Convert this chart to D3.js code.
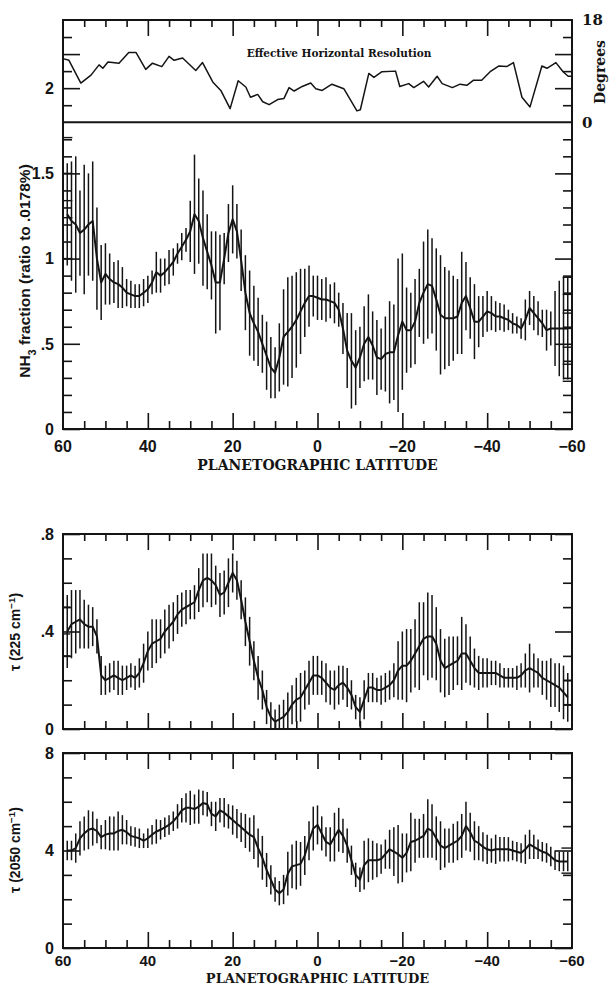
<!DOCTYPE html>
<html><head><meta charset="utf-8">
<script src="https://cdn.jsdelivr.net/npm/d3@7"></script>
<style>body{margin:0;background:#fff} svg{display:block}</style>
</head><body>
<svg id="c" width="611" height="988"></svg>
<script>
// ---------- DATA ----------
const latitudes = [59,58,57,56,55,54,53,52,51,50,49,48,47,46,45,44,43,42,41,40,39,38,37,36,35,34,33,32,31,30,29,28,27,26,25,24,23,22,21,20,19,18,17,16,15,14,13,12,11,10,9,8,7,6,5,4,3,2,1,0,-1,-2,-3,-4,-5,-6,-7,-8,-9,-10,-11,-12,-13,-14,-15,-16,-17,-18,-19,-20,-21,-22,-23,-24,-25,-26,-27,-28,-29,-30,-31,-32,-33,-34,-35,-36,-37,-38,-39,-40,-41,-42,-43,-44,-45,-46,-47,-48,-49,-50,-51,-52,-53,-54,-55,-56,-57,-58,-59];

const nh3Values = [1.26,1.22,1.20,1.15,1.17,1.20,1.22,1.00,0.86,0.91,
0.88,0.86,0.85,0.83,0.80,0.79,0.78,0.78,0.80,0.82,
0.86,0.92,0.90,0.92,0.95,0.98,1.03,1.07,1.11,1.16,
1.26,1.22,1.12,1.04,0.96,0.86,0.86,1.00,1.15,1.23,
1.16,0.99,0.80,0.68,0.62,0.57,0.50,0.43,0.36,0.33,
0.42,0.54,0.57,0.60,0.64,0.69,0.74,0.78,0.78,0.77,
0.76,0.76,0.75,0.74,0.70,0.59,0.46,0.40,0.36,0.42,
0.50,0.54,0.49,0.42,0.41,0.44,0.45,0.45,0.55,0.63,
0.58,0.58,0.63,0.74,0.80,0.85,0.84,0.76,0.67,0.65,
0.65,0.65,0.66,0.74,0.78,0.71,0.63,0.63,0.66,0.69,
0.68,0.66,0.66,0.65,0.64,0.62,0.61,0.59,0.64,0.71,
0.68,0.65,0.62,0.58,0.59,0.59,0.59,0.59,0.59];
const nh3Errors = [0.30,0.35,0.40,0.25,0.38,0.30,0.35,0.30,0.22,0.18,
0.15,0.12,0.14,0.12,0.08,0.08,0.07,0.07,0.08,0.08,
0.07,0.12,0.10,0.08,0.10,0.08,0.06,0.08,0.07,0.18,
0.35,0.25,0.28,0.22,0.20,0.30,0.28,0.15,0.17,0.20,
0.16,0.18,0.22,0.25,0.22,0.20,0.17,0.20,0.18,0.15,
0.20,0.28,0.32,0.30,0.28,0.25,0.20,0.18,0.12,0.13,
0.12,0.13,0.10,0.12,0.10,0.15,0.22,0.28,0.22,0.18,
0.22,0.25,0.20,0.22,0.18,0.22,0.30,0.28,0.45,0.40,
0.25,0.22,0.25,0.20,0.30,0.32,0.28,0.30,0.35,0.30,
0.28,0.25,0.22,0.30,0.20,0.18,0.22,0.15,0.12,0.12,
0.10,0.09,0.08,0.08,0.06,0.06,0.05,0.06,0.12,0.10,
0.10,0.10,0.08,0.12,0.10,0.22,0.28,0.30,0.30];

const tau225Values = [0.40,0.43,0.44,0.45,0.43,0.42,0.42,0.38,0.22,0.20,
0.21,0.22,0.21,0.20,0.21,0.22,0.21,0.23,0.27,0.32,
0.35,0.36,0.37,0.40,0.42,0.44,0.47,0.49,0.50,0.51,
0.52,0.57,0.61,0.62,0.61,0.59,0.55,0.56,0.60,0.64,
0.61,0.53,0.44,0.36,0.28,0.21,0.16,0.09,0.05,0.03,
0.04,0.05,0.07,0.10,0.12,0.13,0.16,0.19,0.22,0.22,
0.21,0.19,0.17,0.16,0.18,0.19,0.17,0.14,0.09,0.07,
0.12,0.17,0.17,0.16,0.16,0.17,0.18,0.20,0.24,0.26,
0.26,0.28,0.31,0.34,0.37,0.38,0.38,0.35,0.28,0.25,
0.26,0.27,0.28,0.31,0.31,0.28,0.25,0.23,0.23,0.23,
0.23,0.23,0.22,0.21,0.21,0.21,0.21,0.22,0.24,0.25,
0.24,0.23,0.21,0.20,0.19,0.18,0.17,0.15,0.13];
const tau225Errors = [0.15,0.14,0.13,0.12,0.10,0.09,0.08,0.07,0.08,0.06,
0.06,0.06,0.07,0.06,0.05,0.05,0.05,0.06,0.08,0.08,
0.10,0.09,0.08,0.09,0.09,0.08,0.08,0.07,0.07,0.06,
0.07,0.09,0.11,0.10,0.11,0.08,0.09,0.09,0.10,0.08,
0.08,0.08,0.10,0.10,0.08,0.09,0.08,0.07,0.06,0.05,
0.06,0.07,0.08,0.08,0.09,0.10,0.08,0.09,0.08,0.08,
0.07,0.08,0.07,0.08,0.08,0.07,0.08,0.06,0.05,0.06,
0.08,0.06,0.06,0.05,0.06,0.06,0.06,0.07,0.12,0.14,
0.15,0.13,0.14,0.18,0.15,0.18,0.17,0.15,0.13,0.12,
0.12,0.11,0.10,0.15,0.12,0.10,0.08,0.07,0.06,0.06,
0.05,0.05,0.05,0.04,0.04,0.04,0.05,0.05,0.07,0.10,
0.07,0.06,0.07,0.08,0.10,0.09,0.10,0.11,0.10];

const tau2050Values = [4.00,4.00,4.10,4.50,4.70,4.85,4.90,4.80,4.55,4.65,
4.70,4.70,4.80,4.85,4.75,4.60,4.55,4.50,4.40,4.50,
4.65,4.78,4.85,4.95,5.05,5.20,5.40,5.65,5.75,5.75,
5.70,5.80,5.95,5.90,5.50,5.40,5.65,5.55,5.40,5.25,
5.10,4.95,4.80,4.65,4.55,4.10,3.70,3.20,2.80,2.40,
2.25,2.40,3.05,3.35,3.40,3.45,3.80,4.40,4.90,5.05,
4.70,4.35,4.25,4.55,4.85,4.60,4.20,3.60,3.00,2.80,
3.40,3.60,3.60,3.60,3.65,3.85,4.05,3.95,3.85,3.70,
3.90,4.35,4.40,4.50,4.60,4.90,4.80,4.50,4.20,4.10,
4.20,4.30,4.40,4.60,5.00,4.75,4.40,4.30,4.15,4.05,
4.00,4.05,4.05,4.05,4.05,4.00,3.95,3.90,4.05,4.25,
4.15,4.05,3.95,3.90,3.75,3.60,3.55,3.55,3.55];
const tau2050Errors = [0.4,0.4,0.6,0.7,0.7,0.8,0.7,0.5,0.5,0.6,
0.7,0.7,0.8,0.6,0.5,0.4,0.4,0.4,0.3,0.4,
0.4,0.5,0.4,0.4,0.4,0.4,0.5,0.5,0.6,0.7,
0.6,0.7,0.5,0.5,0.5,0.6,0.5,0.6,0.5,0.6,
0.6,0.6,0.7,0.7,0.9,0.8,0.9,0.7,0.6,0.5,
0.5,0.6,0.9,0.9,1.0,0.9,0.8,0.8,0.9,0.8,
0.7,0.6,0.7,1.0,0.9,0.7,0.7,0.6,0.5,0.5,
1.0,0.9,0.8,0.7,0.6,0.6,0.8,1.0,1.2,1.0,
0.8,1.2,0.9,0.8,0.9,1.2,1.1,0.9,1.0,0.8,
0.7,0.8,0.8,0.9,1.0,0.8,0.8,0.7,0.6,0.6,
0.5,0.6,0.5,0.5,0.5,0.4,0.4,0.4,0.6,0.6,
0.5,0.4,0.4,0.4,0.4,0.4,0.4,0.4,0.4];

// effective horizontal resolution (degrees)
const resLat = [60,58.6,55.8,53.4,51.5,50.6,49.4,46.8,44.5,42.8,40.5,38.9,36.7,35.0,33.8,31.8,28.7,27.1,24.7,22.8,20.6,18.7,16.9,15.8,14.1,12.9,11.4,9.4,7.9,6.7,5.5,3.6,1.6,0.4,-1.1,-3.4,-6.2,-7.8,-9.3,-10.1,-12.1,-13.3,-15.2,-18.4,-19.4,-21.5,-22.7,-25.0,-26.2,-28.2,-29.4,-31.8,-33.6,-35.2,-36.8,-38.7,-40.7,-42.7,-44.6,-46.2,-48.2,-50.1,-52.9,-54.1,-56.2,-57.9,-59.1,-60];
const resDeg = [11.2,10.9,6.9,8.3,10.1,9.5,10.6,10.4,12.3,12.3,9.3,10.4,9.8,11.6,10.9,11.3,9.1,10.5,7.1,5.6,2.4,7.3,6.2,4.4,4.9,3.6,3.1,4.0,4.2,6.1,5.5,6.3,6.9,5.9,5.6,6.7,5.9,3.9,2.0,2.2,8.6,7.9,8.9,9.0,6.3,6.8,6.1,7.2,6.2,8.1,6.8,6.1,6.7,6.5,7.4,7.4,8.9,9.9,9.8,10.5,4.4,2.7,9.9,9.5,10.5,8.9,8.1,8.1];

// edge bracket levels drawn at the ends of the data
const nh3LeftCaps = [1.71,1.50,1.34,1.24,1.00];
const nh3RightCaps = [0.89,0.79,0.68,0.59,0.48,0.38,0.28];
const tau225LeftCaps = [0.50,0.39,0.30];
const tau225RightCaps = [0.20,0.10];
const tau2050RightCaps = [4.10,3.07];

// ticks
const latMajor = [60,40,20,0,-20,-40,-60];
const latMinor = [55,50,45,35,30,25,15,10,5,-5,-10,-15,-25,-30,-35,-45,-50,-55];
const latLabels = ["60","40","20","0","\u221220","\u221240","\u221260"];
const nh3Major = [0,0.5,1,1.5];
const nh3Minor = [0.1,0.2,0.3,0.4,0.6,0.7,0.8,0.9,1.1,1.2,1.3,1.4,1.6,1.7];
const nh3LabelVals = [0,0.5,1,1.5,2];
const nh3Labels = ["0",".5","1","1.5","2"];
const resMajor = [6,12];
const resMinor = [3,9,15];
const resLabelVals = [0,18];
const resLabels = ["0","18"];
const t225Major = [0,0.4,0.8];
const t225Minor = [0.1,0.2,0.3,0.5,0.6,0.7];
const t225Labels = ["0",".4",".8"];
const t2050Major = [0,4,8];
const t2050Minor = [1,2,3,5,6,7];
const t2050Labels = ["0","4","8"];

// ---------- DRAW ----------
const ink = "#141414";
const sans = "'Liberation Sans', Arial, sans-serif";
const serif = "'DejaVu Serif', serif";
const svg = d3.select("#c");
const X0 = 63, X1 = 572;
const x = d3.scaleLinear().domain([60,-60]).range([X0, X1]);

const yNH3 = d3.scaleLinear().domain([0,2.4]).range([429,20]);
const yRes = d3.scaleLinear().domain([0,18]).range([yNH3(1.8),20]);
const y225 = d3.scaleLinear().domain([0,0.8]).range([729,534]);
const y2050 = d3.scaleLinear().domain([0,8]).range([948,753]);

function ticks(axisFn, scale, values, size, tx, ty) {
  const g = svg.append("g").attr("transform", `translate(${tx},${ty})`)
    .call(axisFn(scale).tickValues(values).tickSize(size).tickFormat(""));
  g.select(".domain").remove();
  g.selectAll("line").attr("stroke", ink).attr("stroke-width", 1.6);
}
function latTicks(yTop, yBot, withTop) {
  if (withTop) {
    ticks(d3.axisTop, x, latMajor.slice(1,-1), -16, 0, yTop);
    ticks(d3.axisTop, x, latMinor, -7, 0, yTop);
  }
  ticks(d3.axisBottom, x, latMajor.slice(1,-1), -16, 0, yBot);
  ticks(d3.axisBottom, x, latMinor, -8, 0, yBot);
}
function yTicks(scale, major, minor) {
  ticks(d3.axisLeft, scale, major, -17, X0, 0);
  ticks(d3.axisLeft, scale, minor, -9, X0, 0);
  ticks(d3.axisRight, scale, major, -17, X1, 0);
  ticks(d3.axisRight, scale, minor, -9, X1, 0);
}
function frame(yTop, yBot) {
  svg.append("rect").attr("x", X0).attr("y", yTop).attr("width", X1 - X0).attr("height", yBot - yTop)
    .attr("fill", "none").attr("stroke", ink).attr("stroke-width", 2);
}
function series(scale, vals, errs) {
  const rows = latitudes.map((lat, i) => ({lat, v: vals[i], e: errs[i]}));
  const [d0, d1] = scale.domain();
  const cl = v => scale(Math.max(d0, Math.min(d1, v)));
  svg.append("g").selectAll("line").data(rows).join("line")
    .attr("x1", d => x(d.lat)).attr("x2", d => x(d.lat))
    .attr("y1", d => cl(d.v - d.e)).attr("y2", d => cl(d.v + d.e))
    .attr("stroke", ink).attr("stroke-width", 1.5);
  svg.append("path").datum(rows)
    .attr("d", d3.line().x(d => x(d.lat)).y(d => scale(d.v)))
    .attr("fill", "none").attr("stroke", ink).attr("stroke-width", 2).attr("stroke-linejoin", "round");
}
function caps(scale, levels, latA, latB, withStem) {
  svg.append("g").selectAll("line").data(levels).join("line")
    .attr("x1", x(latA)).attr("x2", x(latB))
    .attr("y1", d => scale(d)).attr("y2", d => scale(d))
    .attr("stroke", ink).attr("stroke-width", 1.4);
  if (withStem) {
    svg.append("line").attr("x1", x(latB)).attr("x2", x(latB))
      .attr("y1", scale(d3.max(levels))).attr("y2", scale(d3.min(levels)))
      .attr("stroke", ink).attr("stroke-width", 1.4);
  }
}
function yLabels(scale, vals, labels, size) {
  svg.append("g").selectAll("text").data(vals).join("text")
    .attr("x", X0 - 9).attr("y", d => scale(d)).attr("dy", "0.36em")
    .attr("text-anchor", "end").attr("font-family", sans).attr("font-weight", "bold")
    .attr("font-size", size).attr("fill", ink).text((d, i) => labels[i]);
}
function xLabels(baseline, titleGap, tickSize, titleSize) {
  svg.append("g").selectAll("text").data(latMajor).join("text")
    .attr("x", d => x(d)).attr("y", baseline).attr("text-anchor", "middle")
    .attr("font-family", sans).attr("font-weight", "bold").attr("font-size", tickSize)
    .attr("fill", ink).text((d, i) => latLabels[i]);
  svg.append("text").attr("x", x(0)).attr("y", baseline + titleGap).attr("text-anchor", "middle")
    .attr("font-family", serif).attr("font-weight", "bold").attr("font-size", titleSize)
    .attr("fill", ink).text("PLANETOGRAPHIC LATITUDE");
}
function vLabel(cx, cy, parts, size, family, rot) {
  const t = svg.append("text").attr("transform", `translate(${cx},${cy}) rotate(${rot})`)
    .attr("text-anchor", "middle").attr("font-family", family).attr("font-weight", "bold")
    .attr("font-size", size).attr("fill", ink);
  parts.forEach(p => {
    const s = t.append("tspan").text(p.t);
    if (p.sub) s.attr("baseline-shift", "sub").attr("font-size", size * 0.7);
    if (p.sup) s.attr("baseline-shift", "super").attr("font-size", size * 0.7);
  });
}

// ---- Panel 1 + 2 (resolution + NH3) ----
frame(20, 429);
svg.append("line").attr("x1", X0).attr("x2", X1).attr("y1", yNH3(1.8)).attr("y2", yNH3(1.8))
  .attr("stroke", ink).attr("stroke-width", 2);
latTicks(20, 429, true);
yTicks(yNH3, nh3Major, nh3Minor);
yTicks(yRes, resMajor, resMinor);
series(yNH3, nh3Values, nh3Errors);
caps(yNH3, nh3LeftCaps, 60, 57.8, false);
caps(yNH3, nh3RightCaps, -57.8, -60, true);
svg.append("path").datum(resLat.map((l, i) => [l, resDeg[i]]))
  .attr("d", d3.line().x(d => x(d[0])).y(d => yRes(d[1])))
  .attr("fill", "none").attr("stroke", ink).attr("stroke-width", 1.5).attr("stroke-linejoin", "round");
svg.append("text").attr("x", 339).attr("y", 57).attr("text-anchor", "middle")
  .attr("font-family", serif).attr("font-weight", "bold").attr("font-size", 10.5)
  .attr("fill", ink).text("Effective Horizontal Resolution");
yLabels(yNH3, nh3LabelVals, nh3Labels, 16);
svg.append("g").selectAll("text").data(resLabelVals).join("text")
  .attr("x", X1 + 10).attr("y", d => yRes(d)).attr("dy", "0.36em")
  .attr("font-family", serif).attr("font-weight", "bold").attr("font-size", 15)
  .attr("fill", ink).text((d, i) => resLabels[i]);
vLabel(605, 72, [{t: "Degrees"}], 14, serif, -90);
vLabel(30, 271, [{t: "NH"}, {t: "3", sub: true}, {t: " fraction (ratio to .0178%)"}], 15.5, sans, -90);
xLabels(452, 18, 16, 14);

// ---- Panel 3 (tau 225) ----
frame(534, 729);
latTicks(534, 729, true);
yTicks(y225, t225Major, t225Minor);
series(y225, tau225Values, tau225Errors);
caps(y225, tau225LeftCaps, 60, 58.3, false);
caps(y225, tau225RightCaps, -58, -60, false);
yLabels(y225, t225Major, t225Labels, 16);
vLabel(20, 632, [{t: "\u03c4 (225 cm"}, {t: "\u22121", sup: true}, {t: ")"}], 14, sans, -90);

// ---- Panel 4 (tau 2050) ----
frame(753, 948);
latTicks(753, 948, true);
yTicks(y2050, t2050Major, t2050Minor);
series(y2050, tau2050Values, tau2050Errors);
caps(y2050, tau2050RightCaps, -57.5, -60, false);
yLabels(y2050, t2050Major, t2050Labels, 16);
vLabel(20, 850, [{t: "\u03c4 (2050 cm"}, {t: "\u22121", sup: true}, {t: ")"}], 14, sans, -90);
xLabels(966, 17, 15, 13);
</script>
</body></html>
